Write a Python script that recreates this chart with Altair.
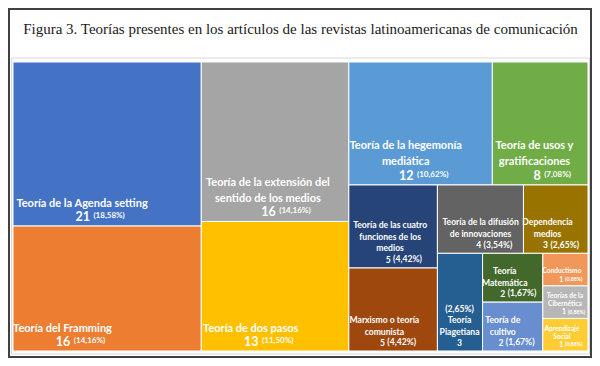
import altair as alt
import pandas as pd

# ---------------- data ----------------
title_text = "Figura 3. Teorías presentes en los artículos de las revistas latinoamericanas de comunicación"

names = [
    "Teoría de la Agenda setting", "Teoría del Framming",
    "Teoría de la extensión del sentido de los medios", "Teoría de dos pasos",
    "Teoría de la hegemonía mediática", "Teoría de usos y gratificaciones",
    "Teoría de las cuatro funciones de los medios", "Marxismo o teoría comunista",
    "Teoría de la difusión de innovaciones", "Dependencia medios",
    "Teoría Piagetiana", "Teoría Matemática", "Teoría de cultivo",
    "Conductismo", "Teorías de la Cibernética", "Aprendizaje Social",
]
values = [21, 16, 16, 13, 12, 8, 5, 5, 4, 3, 3, 2, 2, 1, 1, 1]
pcts = ["18,58%", "14,16%", "14,16%", "11,50%", "10,62%", "7,08%", "4,42%", "4,42%",
        "3,54%", "2,65%", "2,65%", "1,67%", "1,67%", "0,88%", "0,88%", "0,88%"]
label_text = [
    "Teoría de la Agenda setting", "Teoría del Framming",
    "Teoría de la extensión del\nsentido de los medios", "Teoría de dos pasos",
    "Teoría de la hegemonía\nmediática", "Teoría de usos y\ngratificaciones",
    "Teoría de las cuatro\nfunciones de los\nmedios", "Marxismo o teoría\ncomunista",
    "Teoría de la difusión\nde innovaciones", "Dependencia\nmedios",
    "Teoría\nPiagetiana", "Teoría\nMatemática", "Teoría de\ncultivo",
    "Conductismo", "Teorías de la\nCibernética", "Aprendizaje\nSocial",
]
pct_on_top = ["Teoría Piagetiana"]
palette = ["#4472C4", "#ED7D31", "#A5A5A5", "#FFC000", "#5B9BD5", "#70AD47",
           "#264478", "#9E480E", "#636363", "#997300", "#255E91", "#43682B",
           "#698ED0", "#F1975A", "#B7B7B7", "#FFCD33"]

# slicing structure of the treemap (h = side by side, v = stacked), by item index
tree = ("h", [("v", [0, 1]), ("v", [2, 3]),
              ("v", [("h", [4, 5]),
                     ("h", [("v", [6, 7]),
                            ("v", [("h", [8, 9]),
                                   ("h", [10, ("v", [11, 12]), ("v", [13, 14, 15])])])])])])

# ---------------- layout ----------------
W, H = 575, 289


def total(node):
    if isinstance(node, int):
        return values[node]
    return sum(total(k) for k in node[1])


def layout(node, x0, y0, x1, y1, out):
    if isinstance(node, int):
        out[node] = (x0, y0, x1, y1)
        return
    orient, kids = node
    tot = total(node)
    pos = x0 if orient == "h" else y0
    for k in kids:
        frac = total(k) / tot
        if orient == "h":
            w = (x1 - x0) * frac
            layout(k, pos, y0, pos + w, y1, out)
        else:
            w = (y1 - y0) * frac
            layout(k, x0, pos, x1, pos + w, out)
        pos += w


cells = {}
layout(tree, 0, 0, W, H, cells)

rect_rows = []
for i, n in enumerate(names):
    x0, y0, x1, y1 = cells[i]
    rect_rows.append({"name": n, "x": x0, "x2": x1, "y": y0, "y2": y1})
rects = pd.DataFrame(rect_rows)

# label styling per size tier: name fs, number fs, pct fs, bottom pad, gap, line height, value offset
tiers = {
    "big": (11.0, 12.5, 8.0, 9, 13.5, 16, 18),
    "med": (8.6, 8.6, 8.6, 8, 11.5, 11.5, 14),
    "small": (6.6, 6.8, 5.2, 6, 8.5, 8, 9),
}

CW = 0.445  # average glyph width of Lato Bold, in em


def est(s, fs):
    return len(s) * fs * CW


center_rows, left_rows = [], []
for i, n in enumerate(names):
    x0, y0, x1, y1 = cells[i]
    v = values[i]
    tier = "big" if v >= 8 else ("med" if v >= 2 else "small")
    fsn, fsv, fsp, pad, gap, lh, off = tiers[tier]
    lines = label_text[i].split("\n")
    ptxt = "(" + pcts[i] + ")"
    top = n in pct_on_top
    if top:
        lines = [ptxt] + lines
    cx = x0 + 3 + max(est(l, fsn) for l in lines) / 2
    yv = y1 - pad
    if top:
        center_rows.append({"x": cx, "y": yv, "t": str(v), "fs": fsv})
    else:
        numw = len(str(v)) * fsv * 0.58
        pw = est(ptxt, fsp) * 1.1
        g = 0.28 * fsv
        start = cx + off - (numw + g + pw) / 2
        left_rows.append({"x": start, "y": yv, "t": str(v), "fs": fsv})
        left_rows.append({"x": start + numw + g, "y": yv - 0.08 * fsv, "t": ptxt, "fs": fsp})
    for k, line in enumerate(reversed(lines)):
        center_rows.append({"x": cx, "y": yv - gap - k * lh, "t": line, "fs": fsn})

centers = pd.DataFrame(center_rows)
lefts = pd.DataFrame(left_rows)
one = pd.DataFrame({"k": [0]})

xs = alt.Scale(domain=[0, W], nice=False, zero=False)
ys = alt.Scale(domain=[0, H], nice=False, zero=False, reverse=True)

cells_layer = alt.Chart(rects).mark_rect(stroke="white", strokeWidth=1).encode(
    x=alt.X("x:Q", scale=xs, axis=None),
    x2="x2",
    y=alt.Y("y:Q", scale=ys, axis=None),
    y2="y2",
    color=alt.Color("name:N", scale=alt.Scale(domain=names, range=palette), legend=None),
    tooltip=["name:N"],
)

text_c = alt.Chart(centers).mark_text(
    align="center", baseline="middle", font="Lato", fontWeight="bold", color="white"
).encode(
    x=alt.X("x:Q", scale=xs, axis=None),
    y=alt.Y("y:Q", scale=ys, axis=None),
    text="t:N",
    size=alt.Size("fs:Q", scale=None),
)

text_l = alt.Chart(lefts).mark_text(
    align="left", baseline="middle", font="Lato", fontWeight="bold", color="white"
).encode(
    x=alt.X("x:Q", scale=xs, axis=None),
    y=alt.Y("y:Q", scale=ys, axis=None),
    text="t:N",
    size=alt.Size("fs:Q", scale=None),
)

inner_border = alt.Chart(one).mark_rect(fill="transparent", stroke="#d9d9d9", strokeWidth=1).encode(
    x=alt.value(-1.5), x2=alt.value(W + 1.5), y=alt.value(-4), y2=alt.value(H + 3)
)

frame = alt.Chart(one).mark_rect(fill="transparent", stroke="#404040", strokeWidth=2).encode(
    x=alt.value(-4), x2=alt.value(W + 3), y=alt.value(-53), y2=alt.value(H + 6)
)

title = alt.Chart(one).mark_text(
    text=title_text, align="center", baseline="middle", font="Liberation Serif",
    fontSize=15, color="#1a1a1a"
).encode(x=alt.value(W / 2), y=alt.value(-33))

chart = alt.layer(inner_border, cells_layer, text_c, text_l, frame, title).properties(
    width=W, height=H,
    autosize=alt.AutoSizeParams(type="none"),
    padding={"left": 5, "top": 54, "right": 4, "bottom": 7},
    background="white",
).configure_view(stroke="transparent")

chart.save("out.html", embed_options={"renderer": "svg", "actions": False})
